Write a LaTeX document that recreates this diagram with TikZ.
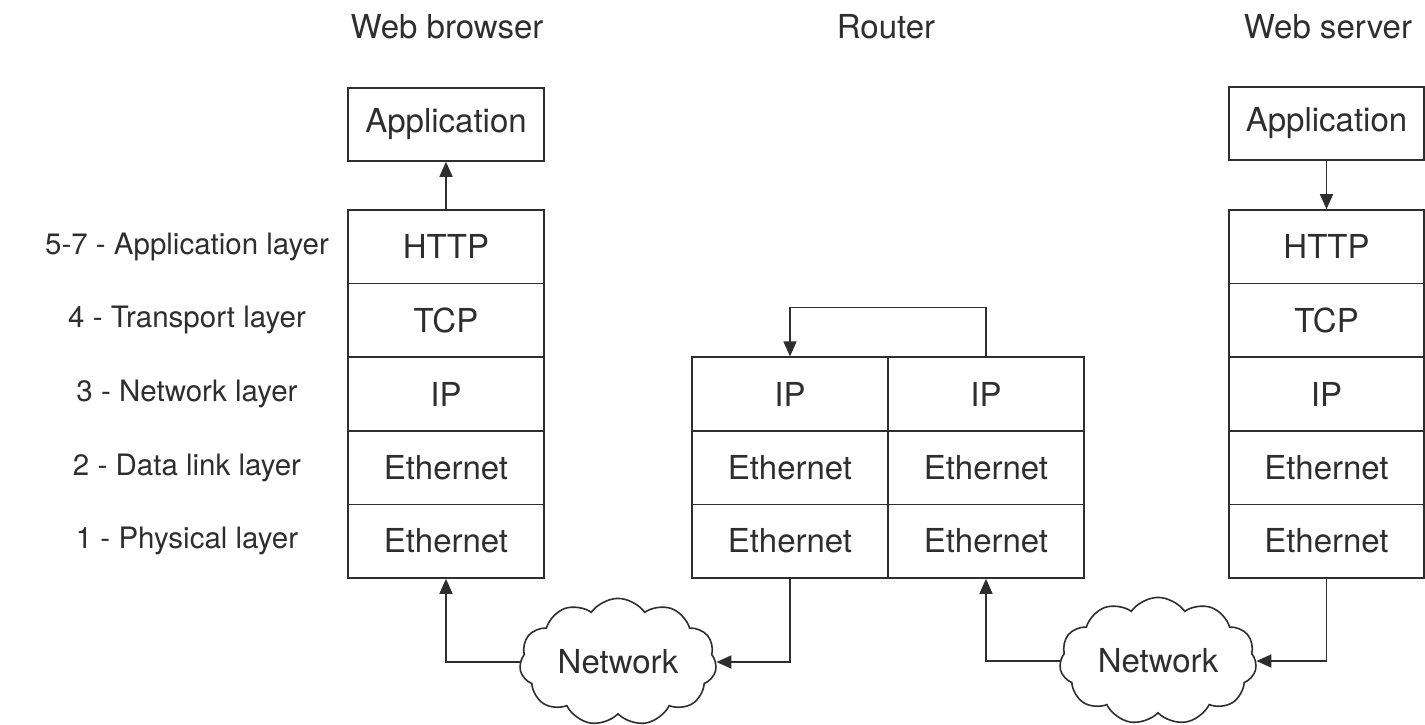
\documentclass[tikz,border=0pt]{standalone}
\usepackage{fontspec}
\setmainfont{TeX Gyre Heros}
\usetikzlibrary{arrows.meta,shapes.symbols}
\tikzset{
    >={Triangle[length=15pt,width=13pt]},
    layer/.style={
        rectangle,
        draw,
        inner sep=0pt,
        minimum width=196pt,
        minimum height=73.6pt
    },
    osi/.style={font=\fontsize{29.5}{36}\selectfont},
    net/.style={
        cloud,
        draw,
        cloud puffs=11,
        cloud puff arc=110,
        aspect=1.6,
        inner sep=0pt,
        minimum width=197pt,
        minimum height=120pt
    }
}

\begin{document}
\begin{tikzpicture}[x=1pt, y=-1pt, line width=1.6pt, color=black!82,
    font=\fontsize{33}{40}\selectfont]

\useasboundingbox (0,0) rectangle (1425,724);

% titles
\node (tb) at (447,27) {Web browser};
\node (tr) at (886,27) {Router};
\node (ts) at (1328,27) {Web server};

% OSI layers
\node[osi] (l5) at (187,246.8) {5-7 - Application layer};
\node[osi] (l4) at (187,320.4) {4 - Transport layer};
\node[osi] (l3) at (187,394.0) {3 - Network layer};
\node[osi] (l2) at (187,467.6) {2 - Data link layer};
\node[osi] (l1) at (187,541.2) {1 - Physical layer};

% browser
\node[layer, minimum height=73pt] (bapp) at (446,124.5) {Application};
\node[layer] (bhttp) at (446,246.8) {HTTP};
\node[layer] (btcp)  at (446,320.4) {TCP};
\node[layer] (bip)   at (446,394.0) {IP};
\node[layer] (beth2) at (446,467.6) {Ethernet};
\node[layer] (beth1) at (446,541.2) {Ethernet};

% router
\node[layer] (raip)   at (790,394.0) {IP};
\node[layer] (raeth2) at (790,467.6) {Ethernet};
\node[layer] (raeth1) at (790,541.2) {Ethernet};
\node[layer] (rbip)   at (986,394.0) {IP};
\node[layer] (rbeth2) at (986,467.6) {Ethernet};
\node[layer] (rbeth1) at (986,541.2) {Ethernet};

% server
\node[layer, minimum width=195pt, minimum height=73pt] (sapp) at (1326.5,123.5) {Application};
\node[layer, minimum width=195pt] (shttp) at (1326.5,246.8) {HTTP};
\node[layer, minimum width=195pt] (stcp)  at (1326.5,320.4) {TCP};
\node[layer, minimum width=195pt] (sip)   at (1326.5,394.0) {IP};
\node[layer, minimum width=195pt] (seth2) at (1326.5,467.6) {Ethernet};
\node[layer, minimum width=195pt] (seth1) at (1326.5,541.2) {Ethernet};

% networks
\node[net] (n1) at (618,662) {Network};
\node[net] (n2) at (1158,661) {Network};

\draw[->] (bhttp) -- (bapp);
\draw[->] (sapp) -- (shttp);
\draw[->] (rbip.north) -- ++(0,-49) -| (raip.north);

\draw[->] (n1.west) -| (beth1.south);
\draw[->] (raeth1.south) |- (n1.east);
\draw[->] (n2.west) -| (rbeth1.south);
\draw[->] (seth1.south) |- (n2.east);

\end{tikzpicture}
\end{document}
